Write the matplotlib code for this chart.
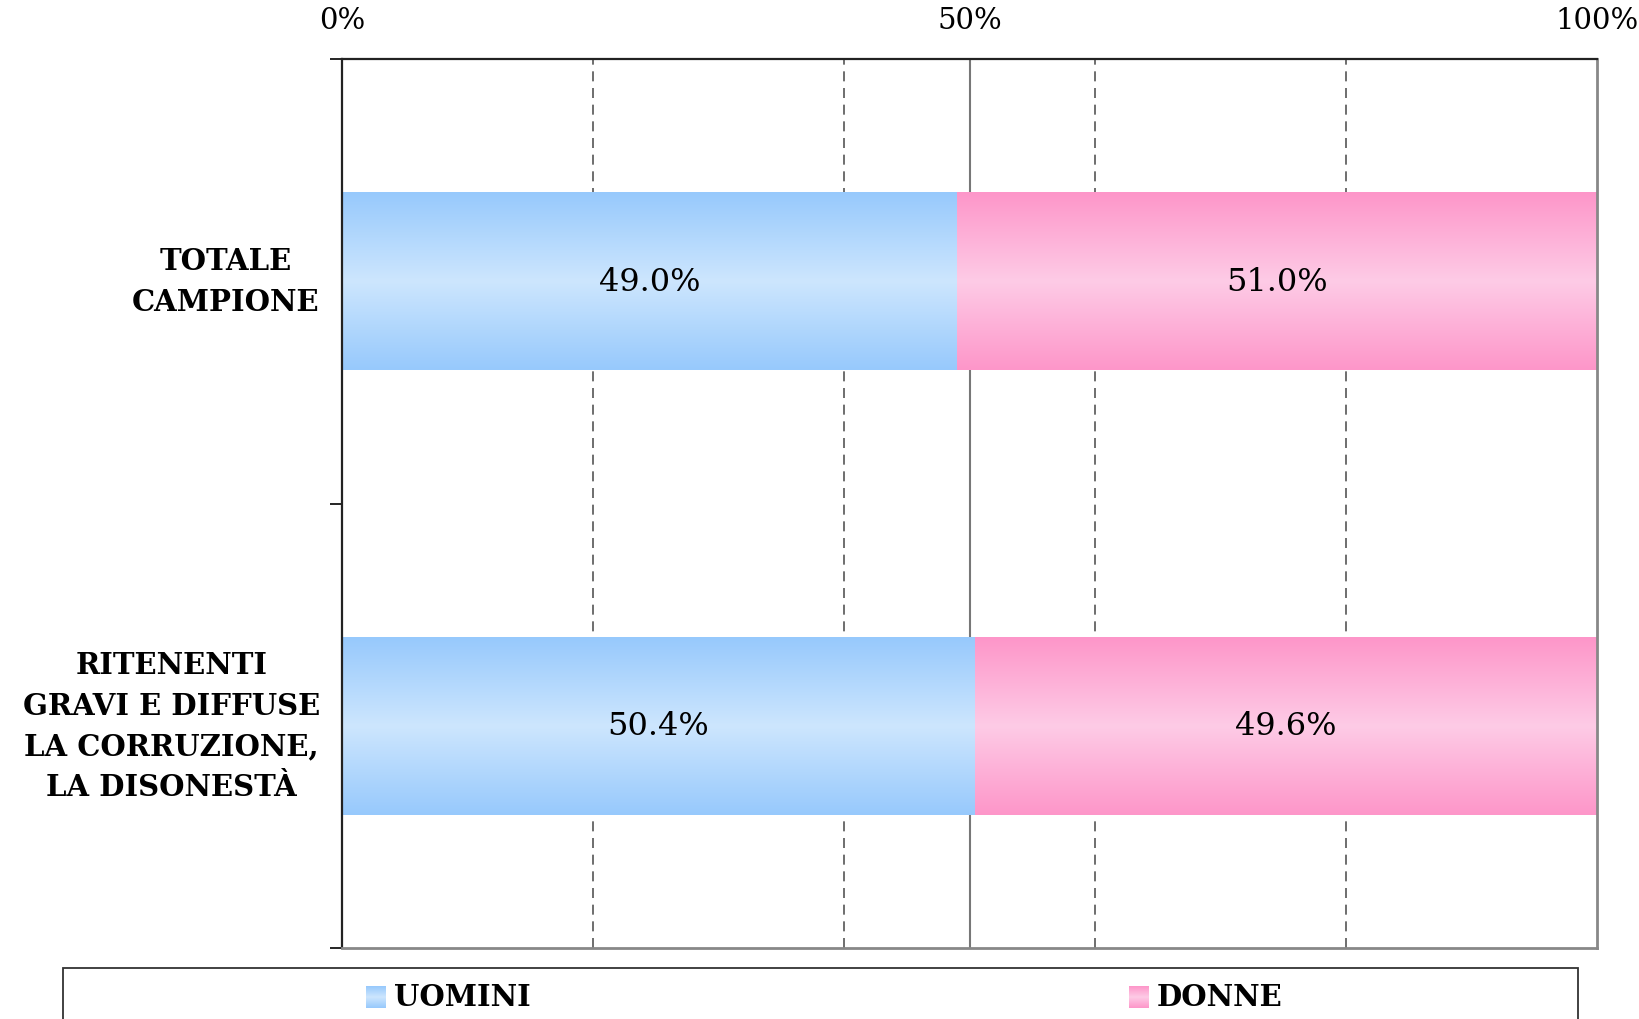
import numpy as np
import matplotlib
matplotlib.use("Agg")
import matplotlib.pyplot as plt
from matplotlib.patches import Rectangle
from matplotlib.colors import LinearSegmentedColormap

# data
categories = ["TOTALE\nCAMPIONE", "RITENENTI\nGRAVI E DIFFUSE\nLA CORRUZIONE,\nLA DISONESTÀ"]
uomini = [49.0, 50.4]
donne = [51.0, 49.6]
series_names = ["UOMINI", "DONNE"]

blue_cmap = LinearSegmentedColormap.from_list("b", ["#97c9fc", "#cde6fe", "#97c9fc"])
pink_cmap = LinearSegmentedColormap.from_list("p", ["#fe96c9", "#fdcbe6", "#fe96c9"])

plt.rcParams['font.family'] = ['DejaVu Serif']

fig = plt.figure(figsize=(16.39, 10.20), dpi=100)
ax = fig.add_axes([342 / 1639, 1 - 949 / 1020, (1597 - 342) / 1639, (949 - 60) / 1020])

bar_h = 0.4
grad = np.linspace(0, 1, 256).reshape(-1, 1)
y = np.arange(len(categories))
for i in y:
    left = 0
    for val, cmap in ((uomini[i], blue_cmap), (donne[i], pink_cmap)):
        ax.imshow(grad, cmap=cmap, aspect="auto", interpolation="bicubic",
                  extent=(left, left + val, i + bar_h / 2, i - bar_h / 2), zorder=2)
        ax.text(left + val / 2, i, f"{val:.1f}%", ha="center", va="center",
                fontsize=23, zorder=3)
        left += val

ax.set_xlim(0, 100)
ax.set_ylim(len(categories) - 0.5, -0.5)

# gridlines
for gx in (20, 40, 60, 80):
    ax.axvline(gx, color="#555555", lw=1.2, ls=(0, (6, 4)), zorder=1)
ax.axvline(50, color="#777777", lw=1.5, zorder=1)

ax.xaxis.tick_top()
ax.set_xticks([0, 50, 100])
ax.set_xticklabels(["0%", "50%", "100%"], fontsize=21)
ax.tick_params(axis="x", length=0, pad=18)

ax.set_yticks([-0.5, 0.5, 1.5])
ax.set_yticklabels([])
ax.set_yticks(y, minor=True)
ax.set_yticklabels(categories, minor=True, fontsize=21, fontweight="bold",
                   ha="right", va="center", multialignment="center", linespacing=1.5)
ax.tick_params(axis="y", which="major", length=9, width=1.2, direction="out")
ax.tick_params(axis="y", which="minor", length=0, pad=16)

ax.spines["top"].set_color("#222222")
ax.spines["left"].set_color("#222222")
ax.spines["top"].set_linewidth(1.6)
ax.spines["left"].set_linewidth(1.6)
ax.spines["right"].set_color("#888888")
ax.spines["bottom"].set_color("#888888")
ax.spines["right"].set_linewidth(2)
ax.spines["bottom"].set_linewidth(2)

# legend box (drawn manually, runs off the bottom edge)
fig.patches.append(Rectangle((63 / 1639, -0.02), (1578 - 63) / 1639, 0.02 + (1020 - 969) / 1020,
                             transform=fig.transFigure, fill=False, edgecolor="#333333", lw=1.3))
leg_y = 1 - 998 / 1020
for name, cmap, x0 in ((series_names[0], blue_cmap, 366), (series_names[1], pink_cmap, 1129)):
    ax_m = fig.add_axes([x0 / 1639, leg_y - 11 / 1020, 20 / 1639, 22 / 1020])
    ax_m.imshow(np.linspace(0, 1, 64).reshape(-1, 1), cmap=cmap, aspect="auto")
    ax_m.axis("off")
    fig.text((x0 + 28) / 1639, leg_y, name, fontsize=21, fontweight="bold", va="center", ha="left")

fig.savefig("out.png", dpi=100)
